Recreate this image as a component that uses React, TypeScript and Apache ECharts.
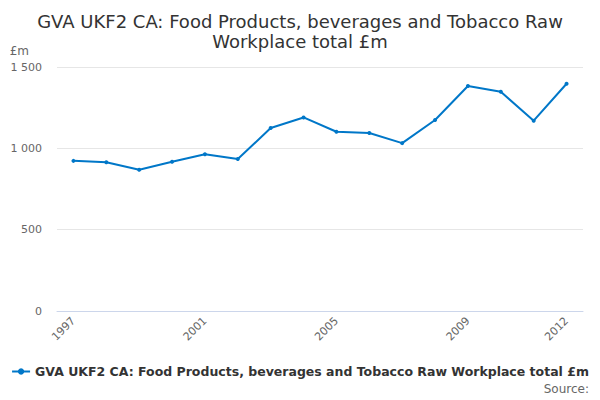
import React, { useEffect, useRef } from "react";
import * as echarts from "echarts";

const years = ["1997","1998","1999","2000","2001","2002","2003","2004","2005","2006","2007","2008","2009","2010","2011","2012"];
const values = [923, 915, 868, 917, 964, 934, 1125, 1190, 1102, 1094, 1032, 1174, 1383, 1348, 1170, 1397];
const labelYears = ["1997", "2001", "2005", "2009", "2012"];
const seriesName = "GVA UKF2 CA: Food Products, beverages and Tobacco Raw Workplace total £m";
const titleText = "GVA UKF2 CA: Food Products, beverages and Tobacco Raw\nWorkplace total £m";

const FONT = "DejaVu Sans";

export default function App() {
  const ref = useRef<HTMLDivElement>(null);
  useEffect(() => {
    document.body.style.margin = "0";
    if (!ref.current) return;
    const chart = echarts.init(ref.current, undefined, { renderer: "svg" });
    chart.setOption({
      animation: false,
      backgroundColor: "#ffffff",
      title: {
        text: titleText,
        left: "center",
        top: 6,
        textStyle: { fontFamily: FONT, fontSize: 18, fontWeight: "normal", color: "#333333", lineHeight: 20 },
      },
      legend: {
        bottom: 17,
        left: "center",
        data: [seriesName],
        itemWidth: 18,
        itemHeight: 8,
        itemGap: 4,
        textStyle: { fontFamily: FONT, fontSize: 12.5, fontWeight: "bold", color: "#333333" },
      },
      graphic: [
        {
          type: "text",
          right: 11,
          bottom: 5,
          style: { text: "Source:", fontFamily: FONT, fontSize: 12, fill: "#666666" },
        },
      ],
      grid: { left: 57, right: 17, top: 67, bottom: 89, containLabel: false },
      xAxis: {
        type: "category",
        data: years,
        boundaryGap: true,
        axisLine: { lineStyle: { color: "#ccd6eb" } },
        axisTick: { alignWithLabel: true, interval: 0, length: 10, lineStyle: { color: "#ccd6eb" } },
        axisLabel: {
          interval: (i: number, v: string) => labelYears.includes(v),
          rotate: 45,
          fontFamily: FONT,
          fontSize: 11,
          color: "#666666",
          margin: 8,
        },
      },
      yAxis: {
        type: "value",
        min: 0,
        max: 1500,
        interval: 500,
        name: "£m",
        nameLocation: "end",
        nameGap: 10,
        nameTextStyle: { fontFamily: FONT, fontSize: 12, color: "#666666", align: "right", padding: [0, 28, 0, 0] },
        axisLine: { show: false },
        axisTick: { show: false },
        splitLine: { lineStyle: { color: "#e6e6e6" } },
        axisLabel: {
          fontFamily: FONT,
          fontSize: 11,
          color: "#666666",
          margin: 15,
          formatter: (v: number) => (v >= 1000 ? String(v).replace(/(\d)(?=(\d{3})+$)/g, "$1 ") : String(v)),
        },
      },
      series: [
        {
          name: seriesName,
          type: "line",
          data: values,
          color: "#0077c8",
          lineStyle: { width: 2, color: "#0077c8" },
          symbol: "circle",
          symbolSize: 4,
          itemStyle: { color: "#0077c8" },
        },
      ],
    });
    return () => chart.dispose();
  }, []);
  return <div ref={ref} style={{ width: 600, height: 400 }} />;
}
